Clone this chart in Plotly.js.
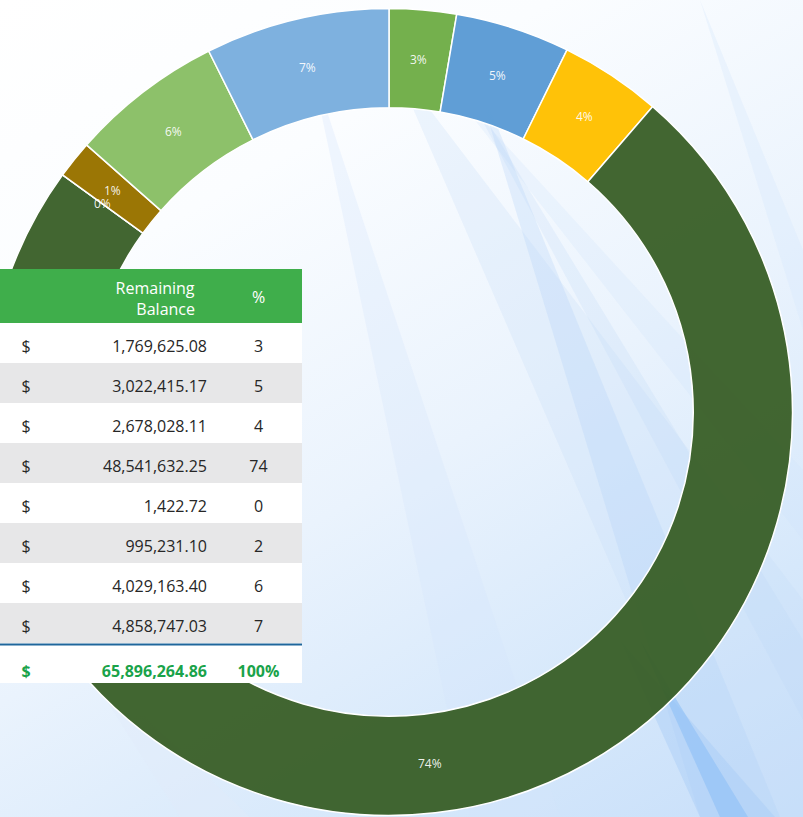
<!DOCTYPE html>
<html>
<head>
<meta charset="utf-8">
<script src="https://cdn.plot.ly/plotly-3.0.1.min.js"></script>
<style>
  html, body { margin:0; padding:0; width:803px; height:817px; overflow:hidden; }
  body { background: linear-gradient(150deg, #ffffff 0%, #fbfdff 25%, #eaf3fd 55%, #d6e8fb 80%, #c8dffa 100%); position:relative; }
  #chart { position:absolute; left:-20px; top:0; width:843px; height:817px; }
</style>
</head>
<body>
<div id="chart"></div>
<script>
// ---- data ----
const categories = ["Item 1","Item 2","Item 3","Item 4","Item 5","Item 6","Item 7","Item 8"];
const balances = [1769625.08, 3022415.17, 2678028.11, 48541632.25, 1422.72, 995231.10, 4029163.40, 4858747.03];
const pctLabels = ["3%","5%","4%","74%","0%","1%","6%","7%"];
const tablePct = ["3","5","4","74","0","2","6","7"];
const headerTitle = "Remaining&nbsp;&nbsp;&nbsp;<br>&nbsp;&nbsp;&nbsp;&nbsp;&nbsp;Balance";
const headerPct = "%";
const sliceColors = ["rgba(112,173,71,0.97)","rgba(91,155,213,0.97)","rgba(255,192,0,0.97)","rgba(56,94,38,0.95)",
                     "rgba(56,94,38,0.95)","rgba(153,115,0,0.98)","rgba(137,191,101,0.97)","rgba(122,174,222,0.97)"];

// ---- geometry helpers (viewport px -> paper fraction) ----
const W = 843, H = 817, OFF = 20;
const px = x => (x + OFF) / W;
const py = y => 1 - y / H;
const CX = 389, CY = 412, R_OUT = 403.5, HOLE = 0.754;
const R_MID = R_OUT * (1 + HOLE) / 2;

const fmt = v => v.toLocaleString('en-US', {minimumFractionDigits:2, maximumFractionDigits:2});
const total = balances.reduce((a,b)=>a+b,0);

const pie = {
  type: 'pie',
  values: balances,
  labels: categories,
  textinfo: 'none',
  hoverinfo: 'label+value',
  sort: false,
  direction: 'clockwise',
  rotation: 0,
  hole: HOLE,
  marker: { colors: sliceColors, line: { color: '#ffffff', width: 1.5 } },
  domain: { x: [px(CX-R_OUT), px(CX+R_OUT)], y: [py(CY+R_OUT), py(CY-R_OUT)] },
  showlegend: false
};

// slice labels at mid-angle, mid-radius (computed from the data)
const annotations = [];
let cum = 0;
balances.forEach((v, i) => {
  const th = 2 * Math.PI * (cum + v / 2) / total;
  cum += v;
  annotations.push({
    xref:'paper', yref:'paper',
    x: px(CX + R_MID * Math.sin(th)), y: py(CY - R_MID * Math.cos(th)),
    text: pctLabels[i], showarrow:false, xanchor:'center', yanchor:'middle',
    font: { family:'Open Sans', size:12, color:'rgba(255,255,255,0.92)' }
  });
});

const n = balances.length;
const rowFill = [];
for (let i = 0; i < n; i++) rowFill.push(i % 2 === 0 ? '#ffffff' : '#e7e7e8');
rowFill.push('#ffffff');
const fontCol = [];
for (let i = 0; i < n; i++) fontCol.push('#262626');
fontCol.push('#1aa34a');

const col1 = balances.map(()=>'$').concat(['<b>$</b>']);
const col2 = balances.map(fmt).concat(['<b>' + fmt(total) + '</b>']);
const col3 = tablePct.concat(['<b>100%</b>']);
const blanks = col1.map(()=>'');

const colWidths = [52, 163, 87];
const aligns = ['center','right','center'];
const noLine = { width: 0, color: 'rgba(0,0,0,0)' };
const clear = { color: 'rgba(0,0,0,0)' };

// table body: green header + striped cell fills
const tableBg = {
  type: 'table',
  domain: { x: [px(0), px(302)], y: [py(705), py(269)] },
  columnwidth: colWidths,
  header: {
    values: ["", "", ""], align: aligns, height: 54,
    fill: { color: '#3fae4b' }, line: noLine,
    font: { family: 'Open Sans', size: 16, color: '#ffffff' }
  },
  cells: {
    values: [blanks, blanks, blanks], align: aligns, height: 40,
    fill: { color: [rowFill, rowFill, rowFill] }, line: noLine,
    font: { family: 'Open Sans', size: 16, color: '#262626' }
  }
};

// two-line header title
const tableHead = {
  type: 'table',
  domain: { x: [px(0), px(302)], y: [py(340), py(269)] },
  columnwidth: colWidths,
  header: {
    values: ["", headerTitle, ""], align: aligns, height: 54,
    fill: clear, line: noLine,
    font: { family: 'Open Sans', size: 16, color: '#ffffff' }
  },
  cells: { values: [[], [], []], fill: clear, line: noLine }
};

// table text layer (vertically centred in the rows)
const tableText = {
  type: 'table',
  domain: { x: [px(0), px(302)], y: [py(716), py(282.5)] },
  columnwidth: colWidths,
  header: {
    values: ["", "", headerPct], align: aligns, height: 49,
    fill: clear, line: noLine,
    font: { family: 'Open Sans', size: 16, color: '#ffffff' }
  },
  cells: {
    values: [col1, col2, col3], align: aligns, height: 40,
    fill: clear, line: noLine,
    font: { family: 'Open Sans', size: 16, color: [fontCol, fontCol, fontCol] }
  }
};

function poly(pts, color, op) {
  let d = 'M ' + pts.map(p => px(p[0]) + ',' + py(p[1])).join(' L ') + ' Z';
  return { type:'path', xref:'paper', yref:'paper', path:d, fillcolor:color, opacity:op, line:{width:0}, layer:'below' };
}

// decorative background streaks (tips hidden under the ring)
const shapes = [
  poly([[392,60],[803,600],[803,817],[720,817]], '#c2dcf8', 0.25),
  poly([[310,60],[560,817],[470,817]], '#d4e6fb', 0.3),
  poly([[428,60],[803,470],[803,540]], '#cfe3fa', 0.25),
  poly([[450,60],[803,640],[803,720]], '#bcd7f8', 0.22),
  poly([[470,60],[780,817],[700,817]], '#b0d0f7', 0.28),
  poly([[620,640],[775,817],[700,817]], '#a8cbf6', 0.45),
  poly([[640,640],[748,817],[720,817]], '#8ebff6', 0.6),
  poly([[700,0],[803,250],[803,330]], '#d6e7fb', 0.35),
  poly([[-20,500],[-20,560],[250,817],[180,817]], '#e0ecfb', 0.4),
  { type:'line', xref:'paper', yref:'paper', x0:px(0), x1:px(302), y0:py(644.5), y1:py(644.5),
    line:{color:'#1f669b', width:2}, layer:'above' }
];

const layout = {
  width: W, height: H,
  margin: { l:0, r:0, t:0, b:0 },
  paper_bgcolor: 'rgba(0,0,0,0)',
  plot_bgcolor: 'rgba(0,0,0,0)',
  showlegend: false,
  shapes: shapes,
  annotations: annotations
};

Plotly.newPlot('chart', [pie, tableBg, tableHead, tableText], layout, { displayModeBar: false, staticPlot: true });
</script>
</body>
</html>
